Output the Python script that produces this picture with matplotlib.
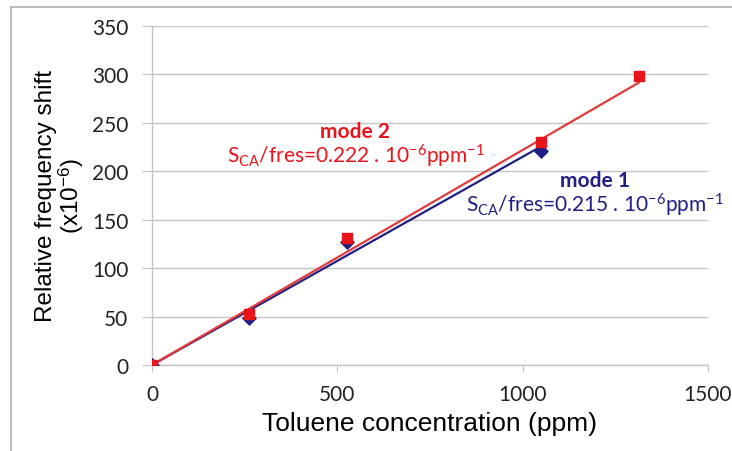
import numpy as np
import matplotlib.pyplot as plt
from matplotlib.lines import Line2D

plt.rcParams['mathtext.fontset'] = 'custom'
plt.rcParams['mathtext.rm'] = 'Lato'
plt.rcParams['mathtext.it'] = 'Lato:italic'

# toluene concentration (ppm) and relative frequency shift (x1e-6)
conc_m1 = [0, 263, 525, 1050]
shift_m1 = [0, 49, 127, 221]
conc_m2 = [0, 263, 525, 1050, 1313]
shift_m2 = [0, 53, 131, 230, 298]
# sensitivities printed on the chart (trendlines through origin)
slope_m1 = 0.215
slope_m2 = 0.222

xticks = [0, 500, 1000, 1500]
yticks = [0, 50, 100, 150, 200, 250, 300, 350]

blue = '#1F1F85'
red = '#E8141B'

fig = plt.figure(figsize=(7.32, 4.52), dpi=100)
ax = fig.add_axes([152/732, 1-366/452, (708-152)/732, (366-27)/452])

x1 = np.array([conc_m1[0], conc_m1[-1]])
x2 = np.array([conc_m2[0], conc_m2[-1]])
ax.plot(x1, slope_m1*x1, color=blue, lw=1.6, zorder=3)
ax.plot(x2, slope_m2*x2, color='#E03A3A', lw=1.6, zorder=3)

ax.scatter(conc_m1, shift_m1, marker='D', s=45, color=blue, zorder=4)
ax.scatter(conc_m2, shift_m2, marker='s', s=50, color=red, zorder=5)

ax.set_xlim(0, 1500)
ax.set_ylim(0, 350)
ax.set_xticks(xticks)
ax.set_yticks(yticks)
ax.grid(axis='y', color='#C4C4C4', lw=1.0)
ax.set_axisbelow(True)
for s in ['top', 'right']:
    ax.spines[s].set_visible(False)
for s in ['left', 'bottom']:
    ax.spines[s].set_color('#C4C4C4')
    ax.spines[s].set_linewidth(1.0)
ax.tick_params(axis='y', length=7, color='#C4C4C4', pad=10, labelsize=15)
ax.tick_params(axis='x', length=5, color='#C4C4C4', pad=9, labelsize=15)
for lab in ax.get_xticklabels() + ax.get_yticklabels():
    lab.set_fontfamily('Lato')
    lab.set_color('#222222')

ax.set_xlabel('Toluene concentration (ppm)', fontsize=19, family='Liberation Sans', labelpad=5)
ax.set_ylabel('Relative frequency shift\n(x10$^{\\mathregular{-6}}$)', fontsize=17.5,
              family='Liberation Sans', labelpad=4, linespacing=1.0)

ax.text(548, 235, 'mode 2', color=red, fontsize=15, fontweight='bold', family='Lato',
        ha='center', va='baseline')
ax.text(549, 209.5, 'S$_{\\mathregular{CA}}$/fres=0.222 . 10$^{\\mathregular{-6}}$ppm$^{\\mathregular{-1}}$',
        color=red, fontsize=15, family='Lato', ha='center', va='baseline')
ax.text(1196, 184.5, 'mode 1', color=blue, fontsize=15, fontweight='bold', family='Lato',
        ha='center', va='baseline')
ax.text(1196, 158, 'S$_{\\mathregular{CA}}$/fres=0.215 . 10$^{\\mathregular{-6}}$ppm$^{\\mathregular{-1}}$',
        color=blue, fontsize=15, family='Lato', ha='center', va='baseline')

# chart-area border
fig.add_artist(Line2D([11/732, 1], [1-8/452, 1-8/452], color='#B0B0B0', lw=1.2))
fig.add_artist(Line2D([11/732, 11/732], [0, 1-8/452], color='#B0B0B0', lw=1.2))

fig.savefig('out.png', dpi=100)
